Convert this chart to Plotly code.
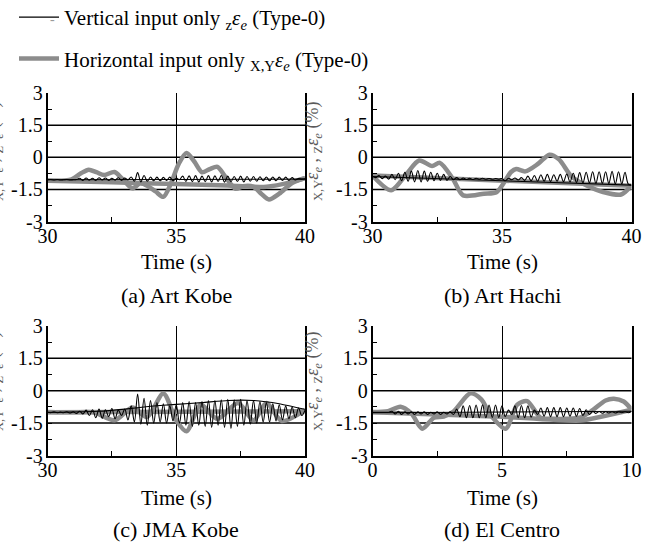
import numpy as np
import plotly.graph_objects as go

# ---------------- data ----------------
# black = vertical input only (sampled every 0.125 s), grey = horizontal input only
t_kobe = np.round(np.arange(30, 40.0001, 0.125), 3)
t_elc = np.round(np.arange(0, 10.0001, 0.125), 3)

a_black = [-1.05, -1.04, -1.06, -1.04, -1.06, -1.05, -1.04, -1.06, -1.05, -1.04,
           -0.98, -1.08, -0.97, -1.07, -0.98, -1.08, -0.96, -1.06, -0.97, -1.08, -0.98, -1.07, -0.96, -1.08, -0.97, -1.06,
           -0.92, -1.12, -0.72, -1.15, -0.85, -1.12,
           -0.92, -1.10, -0.93, -1.10, -0.94, -1.08, -0.93, -1.10,
           -0.97, -1.05, -0.88, -1.13, -0.87, -1.14, -0.86, -1.15,
           -0.88, -1.14, -0.86, -1.15, -0.87, -1.13, -0.85, -1.16,
           -0.88, -1.14, -0.90, -1.13, -0.88, -1.15, -0.90, -1.12,
           -0.90, -1.12, -0.91, -1.10, -0.92, -1.10, -0.92, -1.10,
           -0.93, -1.08, -0.93, -1.08, -0.95, -1.06, -1.00, -1.02,
           -1.00]
a_black_ret_t = [40, 35, 30]
a_black_ret = [-1.02, -1.04, -1.05]
a_grey_t = [30, 30.5, 30.9, 31.3, 31.6, 31.9, 32.2, 32.6, 32.9, 33.3, 33.6, 33.9, 34.2, 34.5, 34.8,
            35.1, 35.4, 35.7, 36.0, 36.3, 36.6, 36.9, 37.3, 37.6, 38.0, 38.3, 38.6, 39.0, 39.5, 40]
a_grey = [-1.09, -1.10, -1.05, -0.75, -0.58, -0.70, -0.83, -0.69, -1.00, -1.45, -1.22, -1.35, -1.60, -1.85, -1.20,
          -0.30, 0.20, -0.20, -0.70, -0.55, -0.45, -0.90, -1.47, -1.35, -1.38, -1.70, -1.97, -1.70, -1.20, -0.98]
a_grey_ret_t = [40, 39.5, 38.5, 37, 35, 32.5, 30]
a_grey_ret = [-0.98, -1.15, -1.38, -1.32, -1.25, -1.17, -1.10]

b_black = [-0.90, -0.95, -0.85, -1.00, -0.88, -1.02, -0.80, -1.05,
           -0.75, -1.10, -0.70, -1.12, -0.65, -1.15, -0.62, -1.15,
           -0.65, -1.12, -0.70, -1.10, -0.75, -1.08, -0.80, -1.08,
           -0.90, -1.05, -0.95, -1.05, -0.97, -1.04, -0.98, -1.04,
           -0.98, -1.03, -0.98, -1.03, -0.99, -1.03, -1.00, -1.02,
           -1.00, -1.10, -0.98, -1.05, -0.97, -1.06, -0.95, -1.08,
           -0.88, -1.10, -0.85, -1.12, -0.82, -1.12, -0.80, -1.13,
           -0.82, -1.12, -0.80, -1.14, -0.78, -1.15, -0.75, -1.18,
           -0.72, -1.20, -0.70, -1.20, -0.68, -1.22, -0.68, -1.22,
           -0.68, -1.23, -0.66, -1.24, -0.68, -1.25, -0.70, -1.25,
           -1.30]
b_black_ret_t = [40, 30]
b_black_ret = [-1.30, -0.90]
b_grey_t = [30, 30.72, 31.3, 31.8, 32.3, 32.6, 33.1, 33.5, 34.3, 34.8, 35.35, 35.55, 35.9, 36.4,
            36.83, 37.2, 37.7, 38.25, 38.9, 39.6, 40]
b_grey = [-0.85, -1.54, -0.80, -0.15, -0.41, -0.26, -1.00, -1.78, -1.70, -1.62, -0.69, -0.55, -0.66, -0.30,
          0.12, -0.10, -0.92, -1.31, -1.62, -1.74, -1.31]
b_grey_ret_t = [40, 30]
b_grey_ret = [-1.33, -0.85]

c_black = [-1.00, -1.02, -0.98, -1.02, -0.99, -1.02, -0.98, -1.03,
           -0.98, -1.05, -0.95, -1.08, -0.90, -1.15, -0.88, -1.25,
           -0.85, -1.28, -0.88, -1.20, -0.82, -1.30, -0.90, -1.15,
           -0.85, -1.35, -0.70, -1.45, -0.15, -1.55, -0.35, -1.60,
           -0.45, -1.50, -0.55, -1.45, -0.60, -1.50, -0.70, -1.40,
           -0.65, -1.50, -0.55, -1.60, -0.50, -1.65, -0.55, -1.60,
           -0.50, -1.65, -0.45, -1.70, -0.45, -1.60, -0.42, -1.70,
           -0.40, -1.75, -0.42, -1.65, -0.40, -1.60, -0.45, -1.55,
           -0.45, -1.50, -0.50, -1.45, -0.55, -1.45, -0.60, -1.40,
           -0.65, -1.35, -0.70, -1.30, -0.75, -1.25, -0.80, -1.15,
           -0.90]
c_black_ret_t = [40, 39, 38, 37, 36, 35, 34, 33, 32, 30]
c_black_ret = [-0.86, -0.60, -0.45, -0.45, -0.55, -0.63, -0.72, -0.85, -0.95, -1.00]
c_grey_t = [30, 31, 31.8, 32.6, 33.3, 33.86, 34.5, 35.0, 35.4, 35.95, 36.6, 37.4, 38.0, 38.5, 39.1, 40]
c_grey = [-0.98, -1.00, -1.00, -1.37, -0.78, -1.22, -0.13, -1.37, -1.88, -0.65, -1.30, -0.57, -1.37, -0.57, -1.40, -0.90]
c_grey_ret_t = [40, 30]
c_grey_ret = [-0.95, -1.00]

d_black = [-1.00, -1.00, -1.00, -1.00, -1.00, -1.00, -0.95, -1.08,
           -0.95, -1.10, -0.98, -1.08, -0.97, -1.10, -0.98, -1.08,
           -0.98, -1.10, -1.00, -1.08, -0.98, -1.10, -1.00, -1.08,
           -0.98, -1.10, -0.85, -1.20, -0.70, -1.25, -0.68, -1.25,
           -0.66, -1.25, -0.65, -1.25, -0.66, -1.24, -0.66, -1.24,
           -0.70, -1.20, -0.90, -1.10, -0.70, -1.25, -0.68, -1.25,
           -0.70, -1.22, -0.90, -1.10, -0.80, -1.18, -0.78, -1.20,
           -0.78, -1.20, -0.78, -1.20, -0.80, -1.18, -0.80, -1.18,
           -0.82, -1.15, -0.88, -1.10, -0.95, -1.05, -0.96, -1.04,
           -0.97, -1.03, -0.97, -1.03, -0.98, -1.02, -0.98, -1.02,
           -0.95]
d_black_ret_t = [10, 0]
d_black_ret = [-0.95, -1.02]
d_grey_t = [0, 0.6, 1.08, 1.5, 1.92, 2.37, 2.75, 3.14, 3.78, 4.2, 4.56, 5.14, 5.59, 5.97, 6.49,
            7.0, 7.5, 8.0, 8.5, 9.0, 9.32, 9.7, 10]
d_grey = [-0.99, -0.95, -0.74, -1.05, -1.76, -1.25, -1.20, -0.95, -0.12, -0.40, -1.13, -1.76, -0.64, -0.48, -1.25,
          -1.30, -1.30, -1.25, -0.90, -0.45, -0.37, -0.50, -0.87]
d_grey_ret_t = [10, 8, 5, 0]
d_grey_ret = [-0.88, -1.38, -1.20, -1.00]

y_ticks = [-3, -1.5, 0, 1.5, 3]
y_ticktext = ["-3", "-1.5", "0", "1.5", "3"]
y_grid = [-1.5, 0, 1.5]
kobe_ticks = [30, 35, 40]
elc_ticks = [0, 5, 10]
panel_titles = ["(a) Art Kobe", "(b) Art Hachi", "(c) JMA Kobe", "(d) El Centro"]
legend_names = ["Vertical input only <sub>z</sub><i>ε<sub>e</sub></i> (Type-0)",
                "Horizontal input only <sub>X,Y</sub><i>ε<sub>e</sub></i> (Type-0)"]
y_title = "<sub>X,Y</sub><i>ε<sub>e</sub></i> , <sub>Z</sub><i>ε<sub>e</sub></i> (%)"

# ---------------- figure ----------------
W, H = 654, 545
FONT = "Liberation Serif"
GREY = "#8c8c8c"

panels = [
    dict(t=t_kobe, blk=a_black, brt=a_black_ret_t, br=a_black_ret, gt=a_grey_t, g=a_grey, grt=a_grey_ret_t, gr=a_grey_ret,
         xr=[30, 40], xt=kobe_ticks, px=(47.5, 305), py=(93, 221.5), tt=40.5, st=73.5, yt=(-6, 152)),
    dict(t=t_kobe, blk=b_black, brt=b_black_ret_t, br=b_black_ret, gt=b_grey_t, g=b_grey, grt=b_grey_ret_t, gr=b_grey_ret,
         xr=[30, 40], xt=kobe_ticks, px=(372.5, 631.5), py=(93, 221.5), tt=40.5, st=73.5, yt=(313, 152)),
    dict(t=t_kobe, blk=c_black, brt=c_black_ret_t, br=c_black_ret, gt=c_grey_t, g=c_grey, grt=c_grey_ret_t, gr=c_grey_ret,
         xr=[30, 40], xt=kobe_ticks, px=(47.5, 305), py=(326, 455.5), tt=42, st=73.5, yt=(-6, 382)),
    dict(t=t_elc, blk=d_black, brt=d_black_ret_t, br=d_black_ret, gt=d_grey_t, g=d_grey, grt=d_grey_ret_t, gr=d_grey_ret,
         xr=[0, 10], xt=elc_ticks, px=(372.5, 631.5), py=(326, 455.5), tt=42, st=73.5, yt=(313, 382)),
]

fig = go.Figure()
layout = {}
shapes = []
annotations = []

for i, p in enumerate(panels):
    n = "" if i == 0 else str(i + 1)
    xa, ya = "x" + n, "y" + n
    first = i == 0
    fig.add_trace(go.Scatter(x=p["gt"], y=p["g"], mode="lines", xaxis=xa, yaxis=ya,
                             line=dict(color=GREY, width=4.5, shape="spline", smoothing=0.8),
                             name=legend_names[1], legendgroup="h", legendrank=2, showlegend=first))
    fig.add_trace(go.Scatter(x=p["grt"], y=p["gr"], mode="lines", xaxis=xa, yaxis=ya,
                             line=dict(color=GREY, width=4.5, shape="spline", smoothing=0.5),
                             legendgroup="h", showlegend=False))
    fig.add_trace(go.Scatter(x=p["t"], y=p["blk"], mode="lines", xaxis=xa, yaxis=ya,
                             line=dict(color="black", width=1.1, shape="spline", smoothing=1),
                             name=legend_names[0], legendgroup="v", legendrank=1, showlegend=first))
    fig.add_trace(go.Scatter(x=p["brt"], y=p["br"], mode="lines", xaxis=xa, yaxis=ya,
                             line=dict(color="black", width=1.1, shape="spline", smoothing=0.5),
                             legendgroup="v", showlegend=False))

    x0, x1 = p["px"]
    ytop, ybot = p["py"]
    layout["xaxis" + n] = dict(domain=[x0 / W, x1 / W], range=p["xr"], anchor=ya, automargin=False,
                               tickvals=p["xt"], ticks="inside", ticklen=5, tickwidth=1.3, tickcolor="black",
                               minor=dict(dtick=2.5, tick0=p["xr"][0], ticks="inside", ticklen=5, tickwidth=1.3,
                                          tickcolor="black"),
                               showgrid=True, gridcolor="black", gridwidth=1.3,
                               showline=True, linecolor="black", linewidth=1.5, mirror=False,
                               zeroline=False, ticklabelstandoff=-4,
                               tickfont=dict(size=20, family=FONT, color="black"), fixedrange=True)
    layout["yaxis" + n] = dict(domain=[1 - ybot / H, 1 - ytop / H], range=[-3, 3], anchor=xa, automargin=False,
                               tickvals=y_ticks, ticktext=y_ticktext, ticks="inside", ticklen=5, tickwidth=1.3,
                               tickcolor="black",
                               minor=dict(dtick=0.75, tick0=-3, ticks="inside", ticklen=5, tickwidth=1.3,
                                          tickcolor="black"),
                               showgrid=False, showline=True, linecolor="black", linewidth=1.5, mirror=True,
                               zeroline=False, ticklabelstandoff=-1,
                               tickfont=dict(size=20, family=FONT, color="black"), fixedrange=True)
    for gv in y_grid:
        shapes.append(dict(type="line", xref=xa + " domain", yref=ya, x0=0, x1=1, y0=gv, y1=gv,
                           line=dict(color="black", width=1.5), layer="below"))
    xc = (x0 + x1) / 2
    annotations.append(dict(text="Time (s)", x=xc / W, y=1 - (ybot + p["tt"]) / H, xref="paper", yref="paper",
                            xanchor="center", yanchor="middle",
                            showarrow=False, font=dict(size=21, family=FONT, color="black")))
    annotations.append(dict(text=panel_titles[i], x=xc / W, y=1 - (ybot + p["st"]) / H, xref="paper", yref="paper",
                            xanchor="center", yanchor="middle",
                            showarrow=False, font=dict(size=22, family=FONT, color="black")))
    # rotated y-axis title at the left side of each panel
    annotations.append(dict(text=y_title, x=p["yt"][0] / W, y=1 - p["yt"][1] / H, xref="paper", yref="paper",
                            xanchor="center", yanchor="middle",
                            showarrow=False, textangle=-90, font=dict(size=18, family=FONT, color="#5a5a5a")))

# small grey dash printed before the first legend entry
annotations.append(dict(text="-", x=52 / W, y=1 - 19 / H, xref="paper", yref="paper",
                        xanchor="center", yanchor="middle", showarrow=False,
                        font=dict(size=14, family=FONT, color="#9a9a9a")))

fig.update_layout(
    width=W, height=H, margin=dict(l=0, r=0, t=0, b=0, autoexpand=False),
    paper_bgcolor="white", plot_bgcolor="white",
    font=dict(family=FONT, size=20, color="black"),
    showlegend=True,
    legend=dict(x=14 / W, y=1 + 3 / H, xanchor="left", yanchor="top", bgcolor="rgba(0,0,0,0)",
                tracegroupgap=11, font=dict(size=21, family=FONT, color="black"), itemwidth=40),
    shapes=shapes, annotations=annotations, **layout)

fig.write_html("out.html", config={"displayModeBar": False},
               post_script="document.body.style.margin='0px';")
